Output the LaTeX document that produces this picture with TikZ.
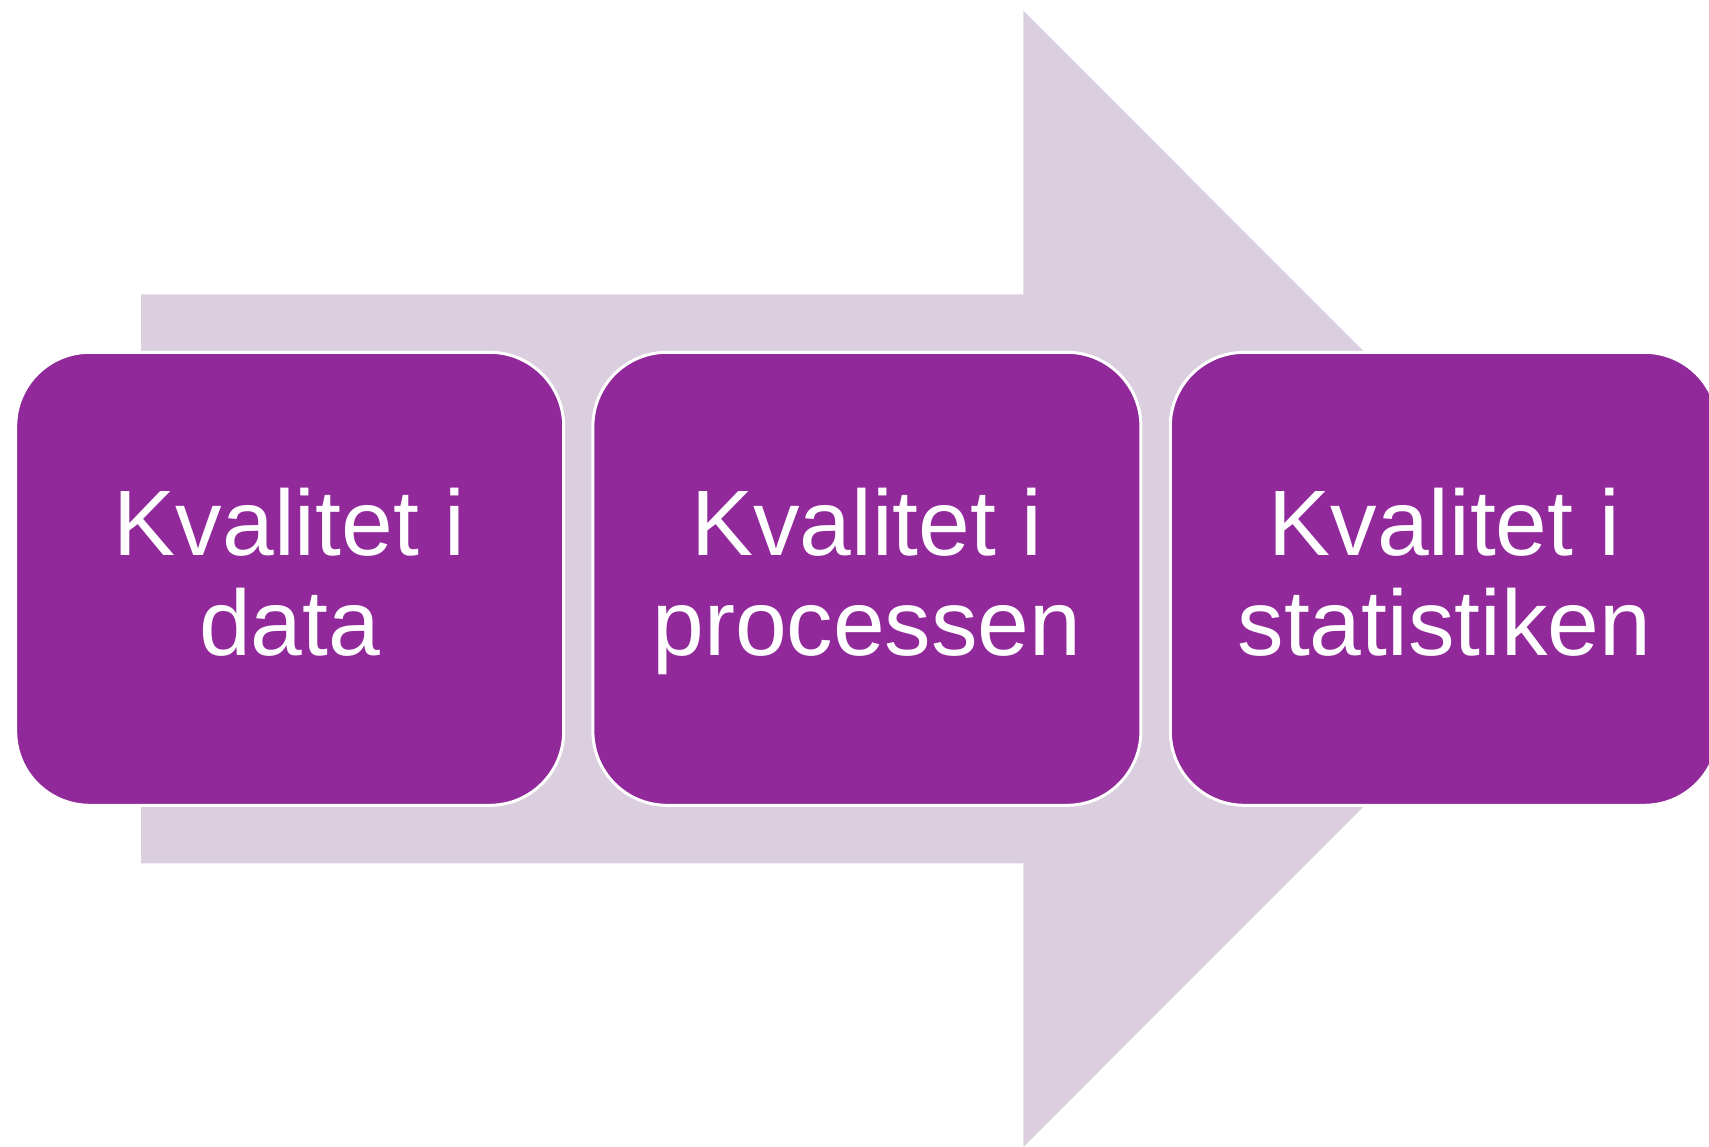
\documentclass[tikz,border=0pt]{standalone}
\usepackage{fontspec}
\setmainfont{Liberation Sans}
\definecolor{boxpurple}{RGB}{145,41,154}
\definecolor{arrowlilac}{RGB}{219,206,223}
\tikzset{
  stagebox/.style={draw=white, line width=3pt, fill=boxpurple, rounded corners=74pt,
    minimum width=548pt, minimum height=453pt, inner sep=0pt, outer sep=0pt},
  stagelabel/.style={text=white, anchor=base, inner sep=0pt,
    font=\fontsize{93}{100}\selectfont},
}
\begin{document}
\begin{tikzpicture}[x=1pt,y=-1pt]
\useasboundingbox (0,0) rectangle (1709,1147);
\clip (0,0) rectangle (1709,1147);
% big background arrow
\fill[arrowlilac] (141,294.3) -- (1023.3,294.3) -- (1023.3,10.7) -- (1591,578.8)
  -- (1023.3,1147) -- (1023.3,863.3) -- (141,863.3) -- cycle;
% boxes
\node[stagebox] (b1) at (289.7,578.8) {};
\node[stagebox] (b2) at (866.9,578.8) {};
\node[stagebox] (b3) at (1444.3,578.8) {};
% labels
\node[stagelabel] (t1) at (b1.center |- 0,555.5) {\begin{tabular}[t]{@{}c@{}}Kvalitet i\\data\end{tabular}};
\node[stagelabel] (t2) at (b2.center |- 0,555.5) {\begin{tabular}[t]{@{}c@{}}Kvalitet i\\processen\end{tabular}};
\node[stagelabel] (t3) at (b3.center |- 0,555.5) {\begin{tabular}[t]{@{}c@{}}Kvalitet i\\statistiken\end{tabular}};
\end{tikzpicture}
\end{document}
